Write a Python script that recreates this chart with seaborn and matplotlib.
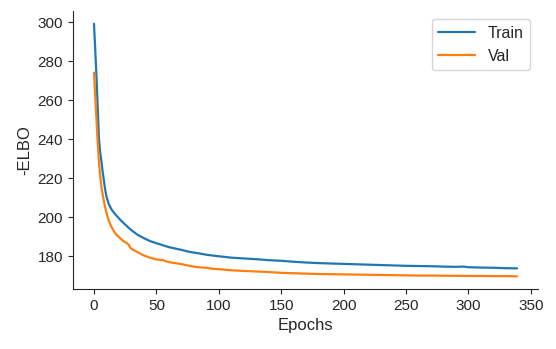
import matplotlib
matplotlib.use("Agg")
import matplotlib.pyplot as plt
import seaborn as sns
import pandas as pd

# Values
train_epochs = [0, 1, 2, 3, 4, 5, 6, 7, 8, 9, 10, 11, 12, 14, 16, 18, 20, 22, 24, 26, 28, 30,
                35, 40, 45, 50, 55, 60, 65, 70, 75, 80, 85, 90, 95, 100, 110, 120, 130, 140,
                150, 160, 170, 180, 190, 200, 210, 220, 230, 240, 250, 260, 270, 280, 290,
                296, 300, 310, 320, 330, 339]
train_elbo = [299.3, 286, 272, 256, 240, 233, 228.5, 223, 218.5, 214, 210.5, 208.5, 206.5,
              204, 202.3, 200.8, 199.4, 198, 196.8, 195.6, 194.4, 193.3,
              190.9, 189.2, 187.7, 186.6, 185.6, 184.6, 183.9, 183.2, 182.4, 181.8, 181.3,
              180.7, 180.3, 179.9, 179.2, 178.8, 178.4, 177.9,
              177.6, 177.1, 176.7, 176.4, 176.2, 176.0, 175.8, 175.6, 175.4, 175.2, 175.0,
              174.9, 174.8, 174.6, 174.5, 174.6, 174.3, 174.1, 174.0, 173.8, 173.7]

val_epochs = [0, 1, 2, 3, 4, 5, 6, 7, 8, 9, 10, 11, 12, 14, 16, 18, 20, 22, 24, 26, 27, 28,
              29, 30, 32, 35, 40, 45, 50, 55, 60, 65, 70, 75, 80, 85, 90, 95, 100, 110, 120,
              130, 140, 150, 160, 170, 180, 190, 200, 210, 220, 230, 240, 250, 260, 270,
              280, 290, 300, 310, 320, 330, 339]
val_elbo = [274.2, 262, 250, 238, 228, 221, 215.5, 211.5, 208, 205, 202.2, 199.9, 198,
            195, 192.7, 191, 189.8, 188.6, 187.5, 186.8, 186.2, 185.8,
            184.3, 183.8, 183.0, 182.0, 180.3, 179.2, 178.3, 177.9, 176.9, 176.4, 175.9,
            175.2, 174.6, 174.2, 174.0, 173.5, 173.3, 172.7, 172.4,
            172.1, 171.8, 171.4, 171.2, 171.0, 170.8, 170.7, 170.6, 170.5, 170.4, 170.3,
            170.2, 170.1, 170.0, 170.0, 169.9, 169.9, 169.8, 169.8, 169.7, 169.7, 169.6]

train_df = pd.DataFrame({"Epochs": train_epochs, "-ELBO": train_elbo})
val_df = pd.DataFrame({"Epochs": val_epochs, "-ELBO": val_elbo})

sns.set_style("ticks")
plt.rcParams["font.family"] = ["Liberation Sans", "DejaVu Sans"]
plt.rcParams["font.size"] = 11

fig, ax = plt.subplots(figsize=(5.56, 3.49), dpi=100)
sns.lineplot(data=train_df, x="Epochs", y="-ELBO", label="Train", ax=ax, linewidth=1.6)
sns.lineplot(data=val_df, x="Epochs", y="-ELBO", label="Val", ax=ax, linewidth=1.6)

ax.set_yticks([180, 200, 220, 240, 260, 280, 300])
ax.set_xticks([0, 50, 100, 150, 200, 250, 300, 350])
ax.tick_params(labelsize=11)
ax.set_xlabel("Epochs", fontsize=12)
ax.set_ylabel("-ELBO", fontsize=12)
ax.legend(loc="upper right", fontsize=11.5, handlelength=2.3)
sns.despine()

fig.subplots_adjust(left=0.131, right=0.968, bottom=0.172, top=0.968)
fig.savefig("out.png", dpi=100)
